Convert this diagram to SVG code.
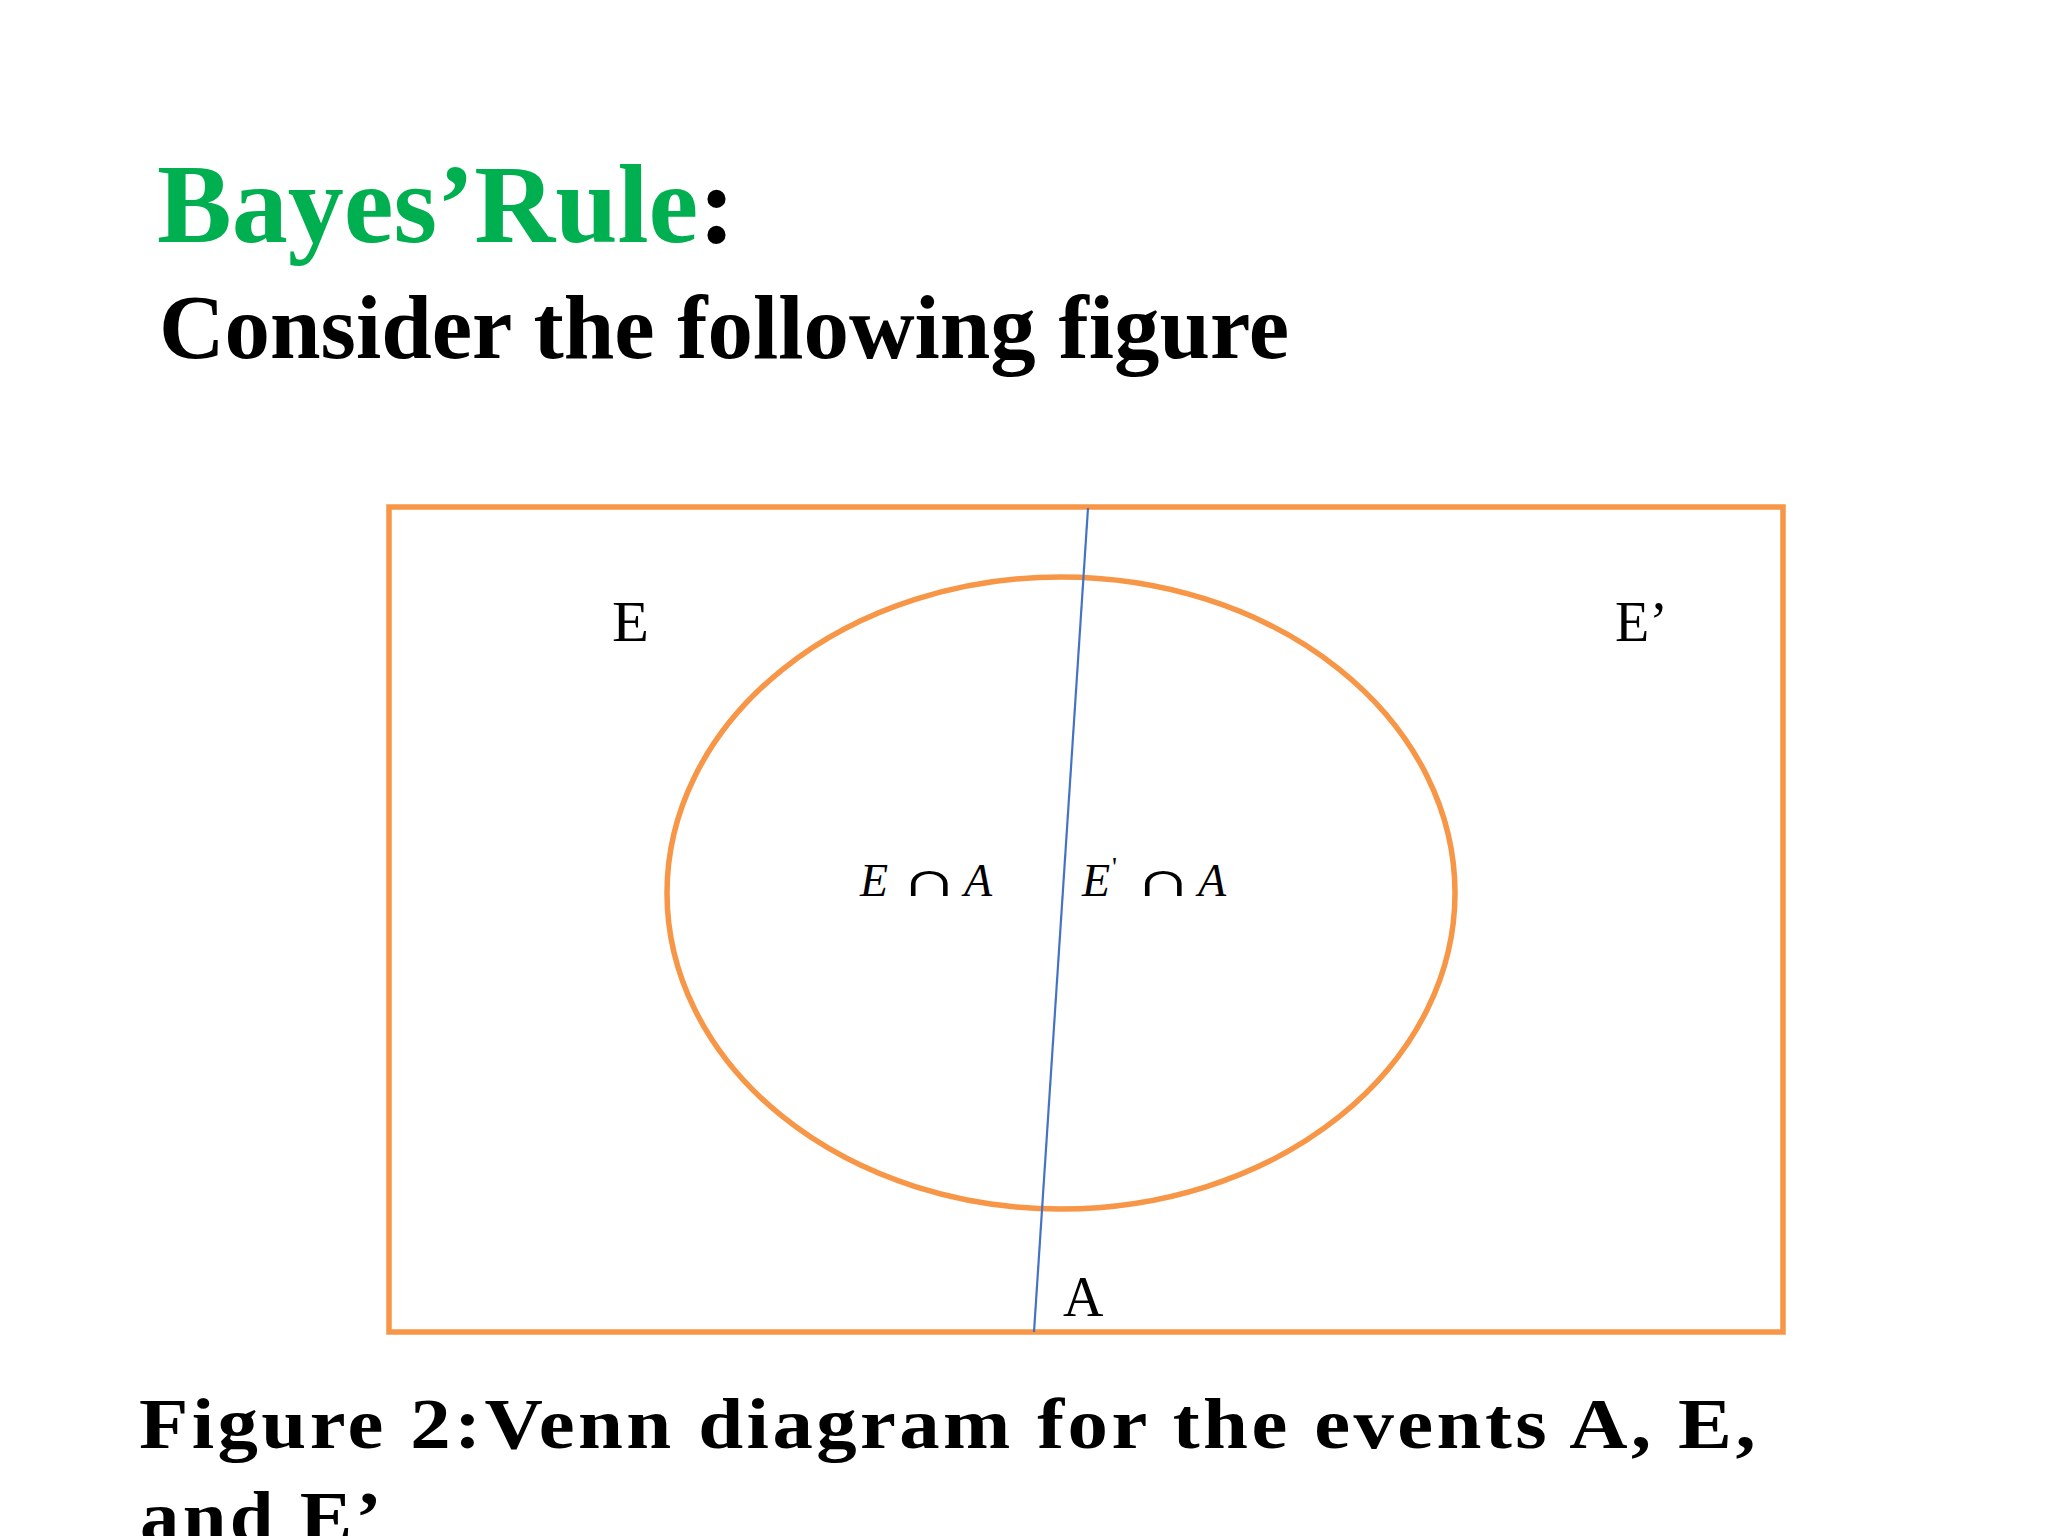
<svg xmlns="http://www.w3.org/2000/svg" width="2048" height="1536" viewBox="0 0 2048 1536">
<style>
.serif{font-family:"Liberation Serif","Times New Roman",serif}
.b{font-weight:bold}
.lbl{font-family:"Liberation Serif","Times New Roman",serif;font-size:56px;fill:#000}
.math{font-family:"Liberation Serif","Times New Roman",serif;font-size:46px;font-style:italic;fill:#000}
.cap{font-family:"DejaVu Serif","Liberation Serif",serif;font-size:40px;fill:#000}
.orange{fill:none;stroke:#F79646;stroke-width:5.5}
</style>
<rect width="2048" height="1536" fill="#fff"/>
<g id="title">
<text class="serif b" x="157" y="242" font-size="112" fill="#00B050">Bayes’Rule<tspan fill="#000">:</tspan></text>
<text class="serif b" x="159" y="358" font-size="91" fill="#000" textLength="1130" lengthAdjust="spacingAndGlyphs">Consider the following figure</text>
</g>
<g id="universe">
<rect class="orange" x="389" y="507" width="1394" height="825"/>
</g>
<g id="eventA">
<ellipse class="orange" cx="1061" cy="893" rx="394" ry="316"/>
</g>
<g id="connectors">
<line x1="1088" y1="508" x2="1034" y2="1332" stroke="#4472C4" stroke-width="2.2"/>
</g>
<g id="labels">
<text class="lbl" x="612" y="641" textLength="37" lengthAdjust="spacingAndGlyphs">E</text>
<text class="lbl" x="1615" y="641">E’</text>
<text class="lbl" x="1063" y="1316">A</text>
<text class="math" x="860" y="896">E</text>
<text class="cap" x="905" y="896" textLength="49" lengthAdjust="spacingAndGlyphs">∩</text>
<text class="math" x="964" y="896">A</text>
<text class="math" x="1082" y="896">E</text>
<text class="serif" x="1112" y="876" font-size="28">'</text>
<text class="cap" x="1139" y="896" textLength="49" lengthAdjust="spacingAndGlyphs">∩</text>
<text class="math" x="1198" y="896">A</text>
</g>
<g id="caption">
<text class="serif b" x="139" y="1448" font-size="71" letter-spacing="3" textLength="1620" lengthAdjust="spacingAndGlyphs">Figure 2:Venn diagram for the events A, E,</text>
<text class="serif b" x="140" y="1541" font-size="71" letter-spacing="3" textLength="245" lengthAdjust="spacingAndGlyphs">and E’</text>
</g>
</svg>
